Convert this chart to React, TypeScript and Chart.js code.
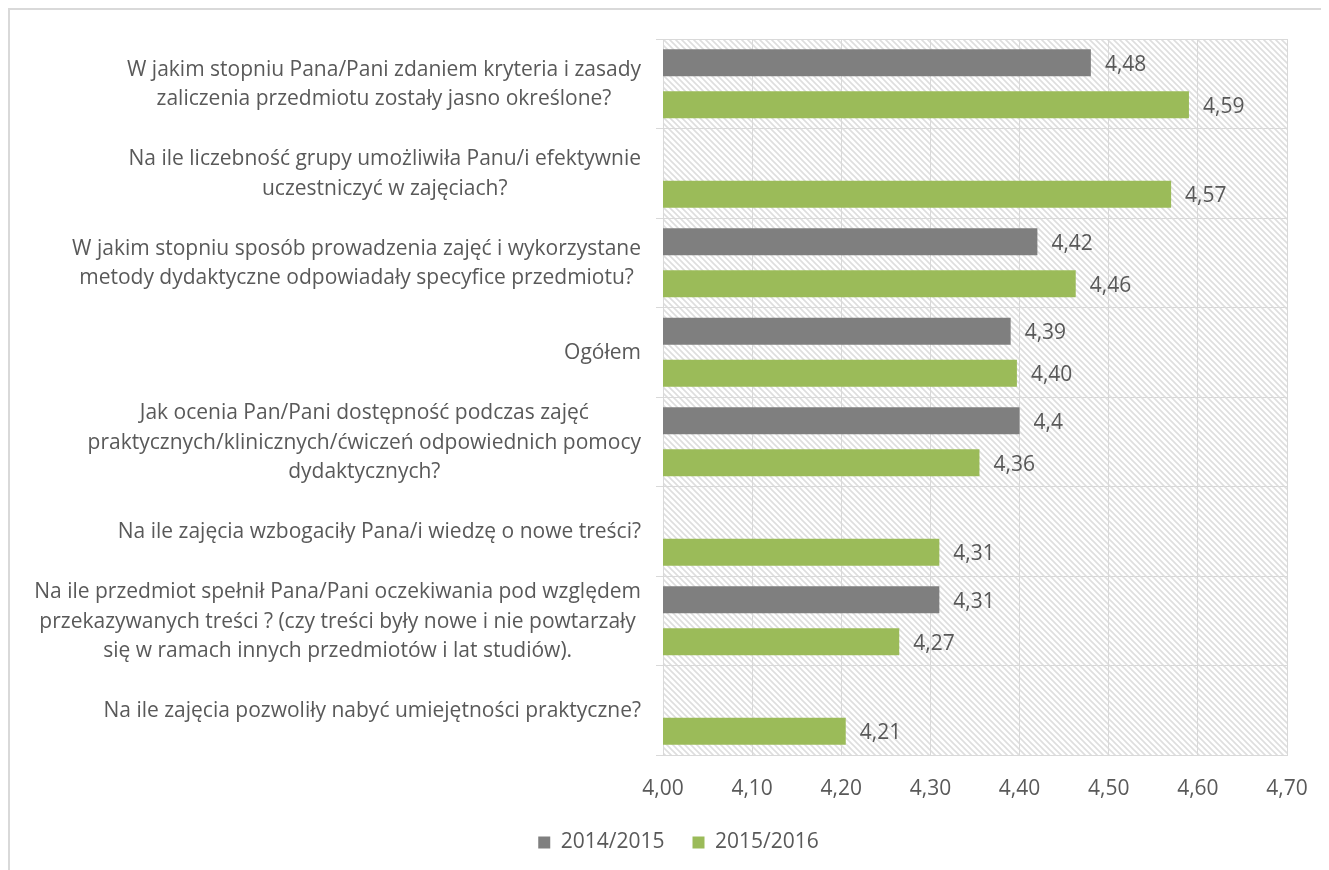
import React, { useEffect, useRef } from "react";
import { Chart, registerables } from "chart.js";

Chart.register(...registerables);

const categories: string[][] = [
  ["W jakim stopniu Pana/Pani zdaniem kryteria i zasady", "zaliczenia przedmiotu zostały jasno określone?"],
  ["Na ile liczebność grupy umożliwiła Panu/i efektywnie", "uczestniczyć w zajęciach?"],
  ["W jakim stopniu sposób prowadzenia zajęć i wykorzystane", "metody dydaktyczne odpowiadały specyfice przedmiotu?"],
  ["Ogółem"],
  ["Jak ocenia Pan/Pani dostępność podczas zajęć", "praktycznych/klinicznych/ćwiczeń odpowiednich pomocy", "dydaktycznych?"],
  ["Na ile zajęcia wzbogaciły Pana/i wiedzę o nowe treści?"],
  ["Na ile przedmiot spełnił Pana/Pani oczekiwania pod względem", "przekazywanych treści ? (czy treści były nowe i nie powtarzały", "się w ramach innych przedmiotów i lat studiów)."],
  ["Na ile zajęcia pozwoliły nabyć umiejętności praktyczne?"],
];

const series2014: (number | null)[] = [4.48, null, 4.42, 4.39, 4.4, null, 4.31, null];
const series2015: (number | null)[] = [4.59, 4.57, 4.463, 4.397, 4.355, 4.31, 4.265, 4.205];
const labels2014: string[] = ["4,48", "", "4,42", "4,39", "4,4", "", "4,31", ""];
const labels2015: string[] = ["4,59", "4,57", "4,46", "4,40", "4,36", "4,31", "4,27", "4,21"];
const seriesNames: string[] = ["2014/2015", "2015/2016"];
const xTicks: number[] = [4.0, 4.1, 4.2, 4.3, 4.4, 4.5, 4.6, 4.7];

const FONT = "'Open Sans', 'Noto Sans', sans-serif";
const FSIZE = 21;
const TEXT = "#595959";
const GRID = "#d9d9d9";

function makePattern(): CanvasPattern | string {
  const c = document.createElement("canvas");
  c.width = 6;
  c.height = 6;
  const g = c.getContext("2d");
  if (!g) return "#fff";
  g.fillStyle = "#ffffff";
  g.fillRect(0, 0, 6, 6);
  g.strokeStyle = "#dedede";
  g.lineWidth = 1.6;
  g.beginPath();
  for (let k = -6; k <= 6; k += 6) {
    g.moveTo(k - 1, -1);
    g.lineTo(k + 7, 7);
  }
  g.stroke();
  return g.createPattern(c, "repeat") || "#fff";
}

export default function App() {
  const ref = useRef<HTMLCanvasElement | null>(null);
  useEffect(() => {
    if (!ref.current) return;
    const pattern = makePattern();
    const bgPlugin = {
      id: "hatchBg",
      beforeDraw(chart: any) {
        const { ctx, chartArea } = chart;
        ctx.save();
        ctx.fillStyle = pattern;
        ctx.fillRect(chartArea.left, chartArea.top, chartArea.right - chartArea.left, chartArea.bottom - chartArea.top);
        ctx.restore();
      },
    };
    const labelPlugin = {
      id: "customLabels",
      afterDraw(chart: any) {
        const { ctx, chartArea } = chart;
        const y = chart.scales.y;
        ctx.save();
        ctx.font = `${FSIZE}px ${FONT}`;
        ctx.fillStyle = TEXT;
        ctx.textBaseline = "middle";
        ctx.textAlign = "center";
        const lineH = 29.5;
        const right = chartArea.left - 22;
        categories.forEach((lines, i) => {
          const cy = y.getPixelForValue(i) + 1;
          const w = Math.max(...lines.map((l) => ctx.measureText(l).width));
          const cx = right - w / 2;
          const start = cy - ((lines.length - 1) * lineH) / 2;
          lines.forEach((l, j) => ctx.fillText(l, cx, start + j * lineH));
        });
        ctx.textAlign = "left";
        const allLabels = [labels2014, labels2015];
        chart.data.datasets.forEach((ds: any, di: number) => {
          const meta = chart.getDatasetMeta(di);
          meta.data.forEach((bar: any, i: number) => {
            const txt = allLabels[di][i];
            if (!txt || ds.data[i] == null) return;
            ctx.fillText(txt, bar.x + 14, bar.y + 2);
          });
        });
        ctx.restore();
      },
    };
    const chart = new Chart(ref.current, {
      type: "bar",
      data: {
        labels: categories.map((c) => c.join(" ")),
        datasets: [
          {
            label: seriesNames[0],
            data: series2014,
            backgroundColor: "#7f7f7f",
            categoryPercentage: 0.94,
            barPercentage: 0.64,
          },
          {
            label: seriesNames[1],
            data: series2015,
            backgroundColor: "#9bbb59",
            categoryPercentage: 0.94,
            barPercentage: 0.64,
          },
        ],
      },
      options: {
        indexAxis: "y",
        animation: false,
        responsive: false,
        maintainAspectRatio: false,
        layout: { padding: { left: 60, right: 42, top: 29, bottom: 7 } },
        scales: {
          x: {
            min: 4.0,
            max: 4.7,
            afterBuildTicks(scale: any) {
              scale.ticks = xTicks.map((v) => ({ value: v }));
            },
            afterFit(scale: any) {
              scale.height = 49;
            },
            grid: { color: GRID, drawTicks: false, lineWidth: 1 },
            border: { display: true, color: GRID },
            ticks: {
              padding: 21,
              color: TEXT,
              font: { family: FONT, size: FSIZE },
              callback: (v: any) => Number(v).toFixed(2).replace(".", ","),
            },
          },
          y: {
            afterFit(scale: any) {
              scale.width = 593;
            },
            grid: { color: GRID, offset: true, drawTicks: true, tickLength: 7, lineWidth: 1 },
            border: { display: true, color: GRID },
            ticks: { display: false },
          },
        },
        plugins: {
          legend: {
            position: "bottom",
            labels: {
              boxWidth: 12,
              boxHeight: 12,
              color: TEXT,
              font: { family: FONT, size: FSIZE },
              padding: 28,
            },
          },
          tooltip: { enabled: false },
        },
      },
      plugins: [bgPlugin, labelPlugin],
    } as any);
    return () => chart.destroy();
  }, []);
  return (
    <div
      style={{
        width: 1319,
        height: 860,
        borderTop: "2px solid #d9d9d9",
        borderLeft: "2px solid #d9d9d9",
        background: "#fff",
      }}
    >
      <canvas ref={ref} width={1319} height={860} style={{ display: "block" }} />
    </div>
  );
}
